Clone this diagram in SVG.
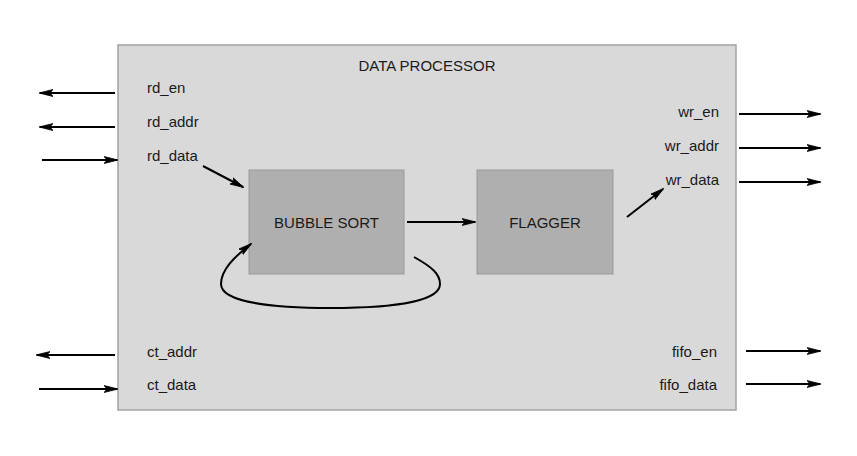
<svg xmlns="http://www.w3.org/2000/svg" width="857" height="456" viewBox="0 0 857 456">
<style>
.t{font-family:"Liberation Sans",Arial,sans-serif;font-size:15px;fill:#1a1a1a}
.c{text-anchor:middle}
.r{text-anchor:end}
.w{stroke:#000;stroke-width:2;fill:none;marker-end:url(#ah)}
</style>
<defs>
<marker id="ah" markerUnits="userSpaceOnUse" viewBox="0 0 14 8" refX="13" refY="4" markerWidth="14" markerHeight="8" orient="auto">
<path d="M0,0.5 L14,4 L0,7.5 L3,4 z" fill="#000" stroke="#000" stroke-width="0.8"/>
</marker>
</defs>
<rect width="857" height="456" fill="#fff"/>
<g id="data_processor">
<rect x="118" y="45" width="618" height="365" fill="#d9d9d9" stroke="#a3a3a3" stroke-width="1.5"/>
<text class="t c" x="427" y="71">DATA PROCESSOR</text>
<text class="t" x="147" y="93">rd_en</text>
<text class="t" x="147" y="127">rd_addr</text>
<text class="t" x="147" y="161">rd_data</text>
<text class="t" x="147" y="357">ct_addr</text>
<text class="t" x="147" y="390">ct_data</text>
<text class="t r" x="719" y="117">wr_en</text>
<text class="t r" x="719" y="151">wr_addr</text>
<text class="t r" x="719" y="185">wr_data</text>
<text class="t r" x="717" y="357">fifo_en</text>
<text class="t r" x="717" y="390">fifo_data</text>
</g>
<g id="bubble_sort">
<rect x="249" y="170" width="155" height="104" fill="#b0afaf" stroke="#999" stroke-width="1"/>
<text class="t c" x="326.5" y="228">BUBBLE SORT</text>
</g>
<g id="flagger">
<rect x="477" y="170" width="136" height="104" fill="#b0afaf" stroke="#999" stroke-width="1"/>
<text class="t c" x="545" y="228">FLAGGER</text>
</g>
<g id="connectors">
<line class="w" x1="115" y1="93" x2="40" y2="93"/>
<line class="w" x1="115" y1="127" x2="40" y2="127"/>
<line class="w" x1="42" y1="160" x2="117" y2="160"/>
<line class="w" x1="115" y1="355" x2="37" y2="355"/>
<line class="w" x1="39" y1="389" x2="117" y2="389"/>
<line class="w" x1="739" y1="114" x2="820" y2="114"/>
<line class="w" x1="739" y1="148" x2="820" y2="148"/>
<line class="w" x1="739" y1="182" x2="820" y2="182"/>
<line class="w" x1="746" y1="351" x2="820" y2="351"/>
<line class="w" x1="746" y1="384" x2="820" y2="384"/>
<line class="w" x1="203" y1="166" x2="243" y2="187"/>
<line class="w" x1="407" y1="222" x2="475" y2="222"/>
<line class="w" x1="627" y1="217" x2="663" y2="189"/>
<path class="w" d="M414 257 C432 267 440 274 440 284 C440 300 400 308 331 308 C262 308 221 300 221 284 C221 270 234 257 251 244"/>
</g>
</svg>
